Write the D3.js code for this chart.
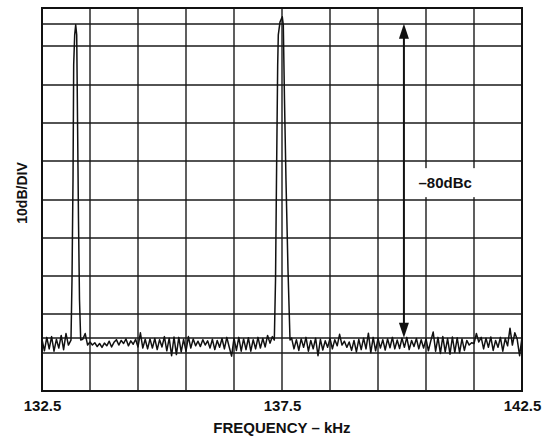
<!DOCTYPE html>
<html>
<head>
<meta charset="utf-8">
<script src="https://cdn.jsdelivr.net/npm/d3@7"></script>
<style>
  html, body { margin: 0; padding: 0; background: #fff; }
  svg { display: block; }
  text { font-family: "Liberation Sans", Arial, Helvetica, sans-serif; font-weight: bold; fill: #111; }
</style>
</head>
<body>
<svg id="chart" width="550" height="436"></svg>
<script>
// ---------------- DATA ----------------
const freqDomain = [132.5, 142.5];          // kHz
const levelDomain = [-100, 0];               // dB, 10 dB / division
const xTickLabels = [132.5, 137.5, 142.5];
const refLevels = [-4.1, -86.1];             // carrier level / marker level lines
const arrowFreq = 140.04;
const markerLabel = "\u201380dBc";
const markerLabelPos = [140.9, -45.6];       // kHz, dB
const xTitle = "FREQUENCY \u2013 kHz";
const yTitle = "10dB/DIV";

// noise floor trace, sampled every 0.05 kHz from 132.5 kHz (null = inside carrier)
const sweepStart = 132.5, sweepStep = 0.05;
const noiseLevels = [
  -86.5, -89.5, -86.0, -89.0, -85.8, -89.6, -86.5, -88.8, -85.5, -89.2, -85.0, -88.0,
  null, null, null, null, null,
  -86.5, -85.0, -88.0, -87.2, -88.0, -87.4, -88.4, -87.6, -88.6, -87.5, -88.2, -87.0,
  -88.5, -87.3, -86.6, -88.0, -86.8, -87.6, -86.4, -88.2, -86.9, -87.8, -86.5, -88.5,
  -84.8, -88.8, -86.5, -89.0, -86.4, -88.8, -86.3, -89.2, -86.6, -88.5, -85.8, -89.5,
  -86.2, -90.8, -85.9, -90.5, -86.0, -89.8, -86.5, -89.6, -85.8, -88.8, -86.4, -88.2,
  -87.0, -88.4, -86.6, -88.0, -86.9, -88.8, -86.5, -89.2, -86.8, -88.6, -86.3, -89.0,
  -86.0, -88.5, -90.9, -86.2, -89.4, -86.0, -89.6, -86.4, -89.2, -86.1, -89.6, -86.6,
  -89.0, -86.0, -88.8, -86.3, -88.5, -85.5, -87.5, -85.8,
  null, null, null, null, null, null, null,
  -86.2, -89.0, -86.6, -89.4, -86.4, -88.6, -86.0, -89.6, -86.8, -89.0, -86.2, -90.8,
  -86.5, -89.3, -86.9, -88.6, -86.3, -89.0, -86.6, -88.2, -85.2, -88.0, -87.0, -88.6,
  -87.2, -89.4, -86.8, -89.8, -86.5, -89.2, -86.2, -89.0, -84.9, -90.0, -86.0, -89.5,
  -86.3, -88.8, -86.6, -89.3, -86.4, -88.7, -86.0, -89.0, -86.7, -88.9, -86.2, -88.6,
  -86.0, -89.2, -86.8, -88.4, -86.3, -89.0, -86.6, -88.8, -86.4, -89.5, -86.9, -84.6,
  -89.6, -86.0, -90.2, -85.8, -89.8, -86.3, -90.4, -85.9, -89.9, -86.1, -90.0, -86.4,
  -89.4, -86.8, -88.0, -87.4, -87.6, -85.0, -87.2, -86.0, -89.0, -86.2, -88.6, -85.9,
  -89.4, -86.8, -88.6, -86.0, -89.6, -86.3, -88.2, -83.6, -88.0, -84.8, -86.5, -90.8,
  -86.0
];

// carrier tones [kHz, dB]
const carrier1 = [
  [133.104, -86.7], [133.125, -71.0], [133.146, -44.9], [133.160, -14.9],
  [133.181, -7.0], [133.202, -4.4], [133.223, -7.0], [133.240, -29.0],
  [133.260, -55.0], [133.281, -76.0], [133.306, -86.7]
];
const carrier2 = [
  [137.340, -86.7], [137.365, -71.0], [137.385, -45.0], [137.410, -14.9],
  [137.423, -7.0], [137.458, -3.7], [137.506, -2.3], [137.527, -4.4],
  [137.552, -24.0], [137.583, -45.0], [137.625, -68.4], [137.667, -86.7]
];

// ---------------- CHART ----------------
const svg = d3.select("#chart");
const plot = { left: 42, right: 522, top: 8, bottom: 391 };

const x = d3.scaleLinear().domain(freqDomain).range([plot.left, plot.right]);
const y = d3.scaleLinear().domain(levelDomain).range([plot.bottom, plot.top]);

const g = svg.append("g");

// grid: 10 divisions each way
const xDivs = d3.range(0, 11).map(k => freqDomain[0] + k * (freqDomain[1] - freqDomain[0]) / 10);
const yDivs = d3.range(0, 11).map(k => levelDomain[0] + k * 10);
const hLines = yDivs.concat(refLevels);

g.append("g").attr("class", "vgrid").selectAll("line").data(xDivs).join("line")
  .attr("x1", d => Math.round(x(d))).attr("x2", d => Math.round(x(d)))
  .attr("y1", plot.top).attr("y2", plot.bottom)
  .attr("stroke", "#1a1a1a").attr("stroke-width", 1.4);

g.append("g").attr("class", "hgrid").selectAll("line").data(hLines).join("line")
  .attr("x1", plot.left).attr("x2", plot.right)
  .attr("y1", d => Math.round(y(d))).attr("y2", d => Math.round(y(d)))
  .attr("stroke", "#1a1a1a").attr("stroke-width", 1.4);

// frame
g.append("rect")
  .attr("x", plot.left).attr("y", plot.top)
  .attr("width", plot.right - plot.left).attr("height", plot.bottom - plot.top)
  .attr("fill", "none").attr("stroke", "#111").attr("stroke-width", 2);

// trace
const noisePts = noiseLevels
  .map((v, i) => [sweepStart + i * sweepStep, v])
  .filter(d => d[1] !== null);
const trace = noisePts.concat(carrier1, carrier2).sort((a, b) => a[0] - b[0]);

g.append("path")
  .datum(trace)
  .attr("fill", "none")
  .attr("stroke", "#111")
  .attr("stroke-width", 1.5)
  .attr("stroke-linejoin", "round")
  .attr("d", d3.line().x(d => x(d[0])).y(d => y(d[1])));

// label box
const lbl = g.append("g");
const lblText = lbl.append("text")
  .attr("x", x(markerLabelPos[0]))
  .attr("y", y(markerLabelPos[1]))
  .attr("text-anchor", "middle")
  .attr("dominant-baseline", "central")
  .attr("font-size", 15)
  .text(markerLabel);
const bb = lblText.node().getBBox();
lbl.insert("rect", "text")
  .attr("x", bb.x - 4).attr("y", bb.y - 6)
  .attr("width", bb.width + 8).attr("height", bb.height + 12)
  .attr("fill", "#fff");

// arrow
const ax = x(arrowFreq);
const yTop = y(refLevels[0]), yBot = y(refLevels[1]);
const headH = 15, headW = 5;
g.append("line")
  .attr("x1", ax).attr("x2", ax)
  .attr("y1", yTop + headH - 2).attr("y2", yBot - headH + 2)
  .attr("stroke", "#111").attr("stroke-width", 2);
g.append("path")
  .attr("d", `M${ax},${yTop} L${ax - headW},${yTop + headH} L${ax + headW},${yTop + headH} Z`)
  .attr("fill", "#111");
g.append("path")
  .attr("d", `M${ax},${yBot} L${ax - headW},${yBot - headH} L${ax + headW},${yBot - headH} Z`)
  .attr("fill", "#111");

// x axis labels
const xAxis = d3.axisBottom(x).tickValues(xTickLabels).tickSize(0).tickPadding(9)
  .tickFormat(d3.format(".1f"));
const axG = svg.append("g").attr("transform", `translate(0,${plot.bottom})`).call(xAxis);
axG.select(".domain").remove();
axG.selectAll("text")
  .attr("font-size", 15)
  .attr("font-family", "'Liberation Sans', Arial, sans-serif")
  .attr("font-weight", "bold")
  .attr("fill", "#111");

// axis titles
svg.append("text")
  .attr("x", (plot.left + plot.right) / 2)
  .attr("y", 433)
  .attr("text-anchor", "middle")
  .attr("font-size", 15)
  .text(xTitle);

svg.append("text")
  .attr("transform", `translate(27,193) rotate(-90)`)
  .attr("text-anchor", "middle")
  .attr("font-size", 14)
  .text(yTitle);
</script>
</body>
</html>
